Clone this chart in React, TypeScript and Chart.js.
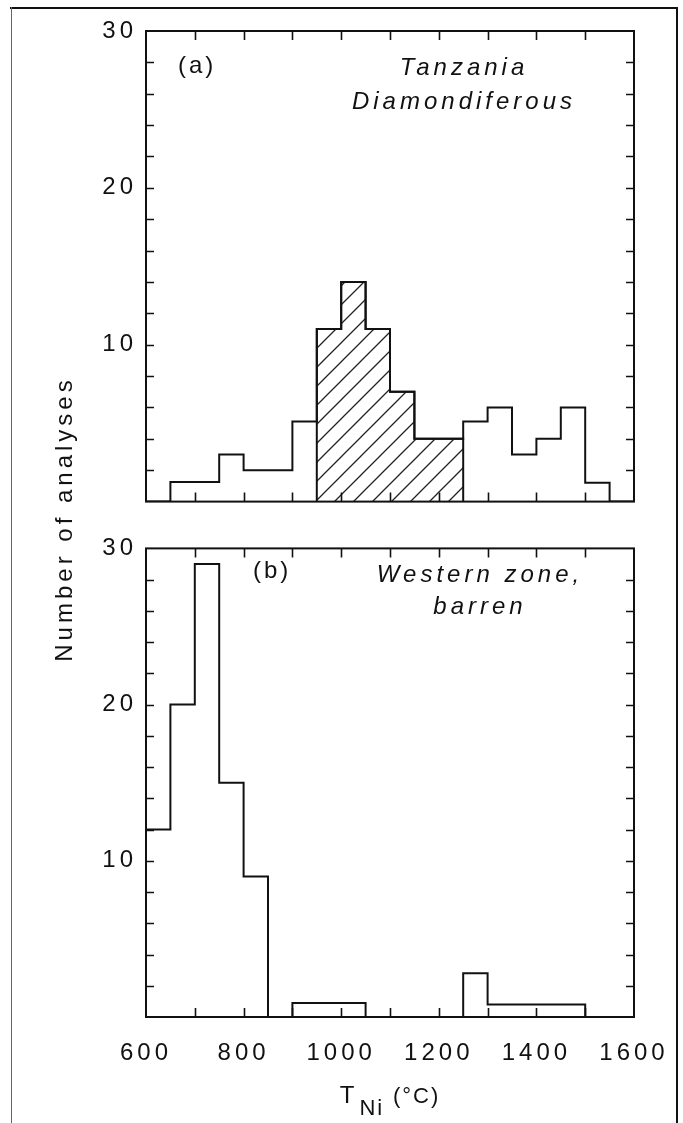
import React, { useEffect, useRef } from "react";
import { Chart, registerables } from "chart.js";

Chart.register(...registerables);

// ---- data ----
const binEdges = [
  600, 650, 700, 750, 800, 850, 900, 950, 1000, 1050, 1100, 1150, 1200, 1250,
  1300, 1350, 1400, 1450, 1500, 1550, 1600,
];
// (a) Tanzania, diamondiferous: counts per 50 °C bin
const countsTanzania = [
  0, 1.25, 1.25, 3, 2, 2, 5.1, 11, 14, 11, 7, 4, 4, 5.1, 6, 3, 4, 6, 1.2, 0,
];
const hatchedRange = [950, 1250];
// (b) Western zone, barren: counts per 50 °C bin
const countsWestern = [
  12, 20, 29, 15, 9, 0, 0.9, 0.9, 0.9, 0, 0, 0, 0, 2.8, 0.8, 0.8, 0.8, 0.8, 0, 0,
];
const xTickLabels = [600, 800, 1000, 1200, 1400, 1600];
const yTickLabels = [10, 20, 30];
const X_MIN = 600;
const X_MAX = 1600;
const Y_MAX = 30;

const FONT = '"Liberation Sans", Arial, Helvetica, sans-serif';
const INK = "#111";

function stepPoints(counts: number[]) {
  const pts = counts.map((c, i) => ({ x: binEdges[i], y: c }));
  pts.push({ x: binEdges[binEdges.length - 1], y: 0 });
  return pts;
}

function hatchPoints(counts: number[]) {
  const pts = [{ x: hatchedRange[0], y: 0 }];
  binEdges.slice(0, -1).forEach((e, i) => {
    if (e >= hatchedRange[0] && e < hatchedRange[1]) pts.push({ x: e, y: counts[i] });
  });
  pts.push({ x: hatchedRange[1], y: 0 });
  return pts;
}

function makeHatch(): CanvasPattern | string {
  const s = 19;
  const c = document.createElement("canvas");
  c.width = s;
  c.height = s;
  const g = c.getContext("2d");
  if (!g) return "transparent";
  g.strokeStyle = "#222";
  g.lineWidth = 1.3;
  g.beginPath();
  g.moveTo(0, s);
  g.lineTo(s, 0);
  g.moveTo(-2, 2);
  g.lineTo(2, -2);
  g.moveTo(s - 2, s + 2);
  g.lineTo(s + 2, s - 2);
  g.stroke();
  return g.createPattern(c, "repeat") || "transparent";
}

const spacingPlugin = {
  id: "spacing",
  beforeDraw(chart: any) {
    (chart.ctx as any).letterSpacing = "4px";
  },
};

const frameTicksPlugin = {
  id: "frameTicks",
  afterDraw(chart: any) {
    const { ctx, chartArea: a, scales } = chart;
    const xs = scales.x;
    const ys = scales.y;
    ctx.save();
    ctx.strokeStyle = INK;
    ctx.lineWidth = 2;
    ctx.strokeRect(a.left, a.top, a.right - a.left, a.bottom - a.top);
    ctx.lineWidth = 1.6;
    ctx.beginPath();
    xs.ticks.forEach((t: any) => {
      if (t.value <= xs.min || t.value >= xs.max) return;
      const px = Math.round(xs.getPixelForValue(t.value)) + 0.5;
      ctx.moveTo(px, a.bottom);
      ctx.lineTo(px, a.bottom - 9);
      ctx.moveTo(px, a.top);
      ctx.lineTo(px, a.top + 9);
    });
    ys.ticks.forEach((t: any) => {
      if (t.value <= ys.min || t.value >= ys.max) return;
      const py = Math.round(ys.getPixelForValue(t.value)) + 0.5;
      ctx.moveTo(a.left, py);
      ctx.lineTo(a.left + 8, py);
      ctx.moveTo(a.right, py);
      ctx.lineTo(a.right - 8, py);
    });
    ctx.stroke();
    ctx.restore();
  },
};

function makeConfig(datasets: any[], showX: boolean, padTop: number, xHeight: number): any {
  return {
    type: "line",
    data: { datasets },
    options: {
      animation: false,
      responsive: false,
      layout: { padding: { left: 0, right: 49, top: padTop, bottom: 0 } },
      plugins: { legend: { display: false }, tooltip: { enabled: false } },
      elements: { point: { radius: 0 } },
      scales: {
        x: {
          type: "linear",
          min: X_MIN,
          max: X_MAX,
          grid: { display: false, drawTicks: false },
          border: { display: false },
          ticks: {
            display: showX,
            stepSize: 100,
            autoSkip: false,
            maxRotation: 0,
            padding: 22,
            color: INK,
            font: { size: 24, family: FONT },
            callback: (v: any) => (xTickLabels.includes(Number(v)) ? String(v) : ""),
          },
          afterFit: (s: any) => {
            s.height = xHeight;
          },
        },
        y: {
          min: 0,
          max: Y_MAX,
          grid: { display: false, drawTicks: false },
          border: { display: false },
          ticks: {
            stepSize: 2,
            autoSkip: false,
            padding: 9,
            color: INK,
            font: { size: 24, family: FONT },
            callback: (v: any) => (yTickLabels.includes(Number(v)) ? String(v) : ""),
          },
          afterFit: (s: any) => {
            s.width = 146;
          },
        },
      },
    },
    plugins: [spacingPlugin, frameTicksPlugin],
  };
}

const lineStyle = {
  borderColor: INK,
  borderWidth: 2,
  stepped: "before",
  pointRadius: 0,
  fill: false,
};

export default function App() {
  const topRef = useRef<HTMLCanvasElement>(null);
  const botRef = useRef<HTMLCanvasElement>(null);

  useEffect(() => {
    if (!topRef.current || !botRef.current) return;
    const hatch = makeHatch();
    const top = new Chart(
      topRef.current,
      makeConfig(
        [
          {
            ...lineStyle,
            data: hatchPoints(countsTanzania),
            fill: "origin",
            backgroundColor: hatch,
          },
          { ...lineStyle, data: stepPoints(countsTanzania) },
        ],
        false,
        31,
        12
      )
    );
    const bottom = new Chart(
      botRef.current,
      makeConfig([{ ...lineStyle, data: stepPoints(countsWestern) }], true, 10, 106)
    );
    return () => {
      top.destroy();
      bottom.destroy();
    };
  }, []);

  const txt: React.CSSProperties = {
    position: "absolute",
    fontFamily: FONT,
    fontSize: 24,
    letterSpacing: "4px",
    color: INK,
    whiteSpace: "nowrap",
  };

  return (
    <div
      style={{
        position: "absolute",
        left: 0,
        top: 0,
        width: 683,
        height: 1123,
        background: "#fff",
        overflow: "hidden",
      }}
    >
      <canvas
        ref={topRef}
        width={683}
        height={525}
        style={{ position: "absolute", left: 0, top: 0 }}
      />
      <canvas
        ref={botRef}
        width={683}
        height={598}
        style={{ position: "absolute", left: 0, top: 525 }}
      />
      {/* scan frame */}
      <div style={{ position: "absolute", left: 10, top: 7, width: 668, height: 2, background: INK }} />
      <div style={{ position: "absolute", left: 676, top: 7, width: 2, height: 1116, background: INK }} />
      <div style={{ position: "absolute", left: 11, top: 7, width: 1, height: 1116, background: "#666" }} />

      <div style={{ ...txt, left: 178, top: 48, lineHeight: "34px", letterSpacing: "3px" }}>(a)</div>
      <div
        style={{
          ...txt,
          left: 314,
          top: 50,
          width: 300,
          textAlign: "center",
          lineHeight: "34px",
          fontStyle: "italic",
        }}
      >
        Tanzania
        <br />
        Diamondiferous
      </div>

      <div style={{ ...txt, left: 253, top: 553, lineHeight: "34px", letterSpacing: "3px" }}>(b)</div>
      <div
        style={{
          ...txt,
          left: 330,
          top: 558,
          width: 300,
          textAlign: "center",
          lineHeight: "32px",
          fontStyle: "italic",
        }}
      >
        Western zone,
        <br />
        barren
      </div>

      <div
        style={{
          ...txt,
          left: -136,
          top: 504,
          width: 400,
          height: 30,
          lineHeight: "30px",
          textAlign: "center",
          transform: "rotate(-90deg)",
        }}
      >
        Number of analyses
      </div>

      <div
        style={{
          ...txt,
          left: 146,
          top: 1080,
          width: 488,
          lineHeight: "30px",
          textAlign: "center",
          letterSpacing: "2px",
        }}
      >
        T
        <span style={{ position: "relative", top: 12, fontSize: 22, marginLeft: 3 }}>Ni</span>{" "}
        <span style={{ fontSize: 22 }}>(°C)</span>
      </div>
    </div>
  );
}
